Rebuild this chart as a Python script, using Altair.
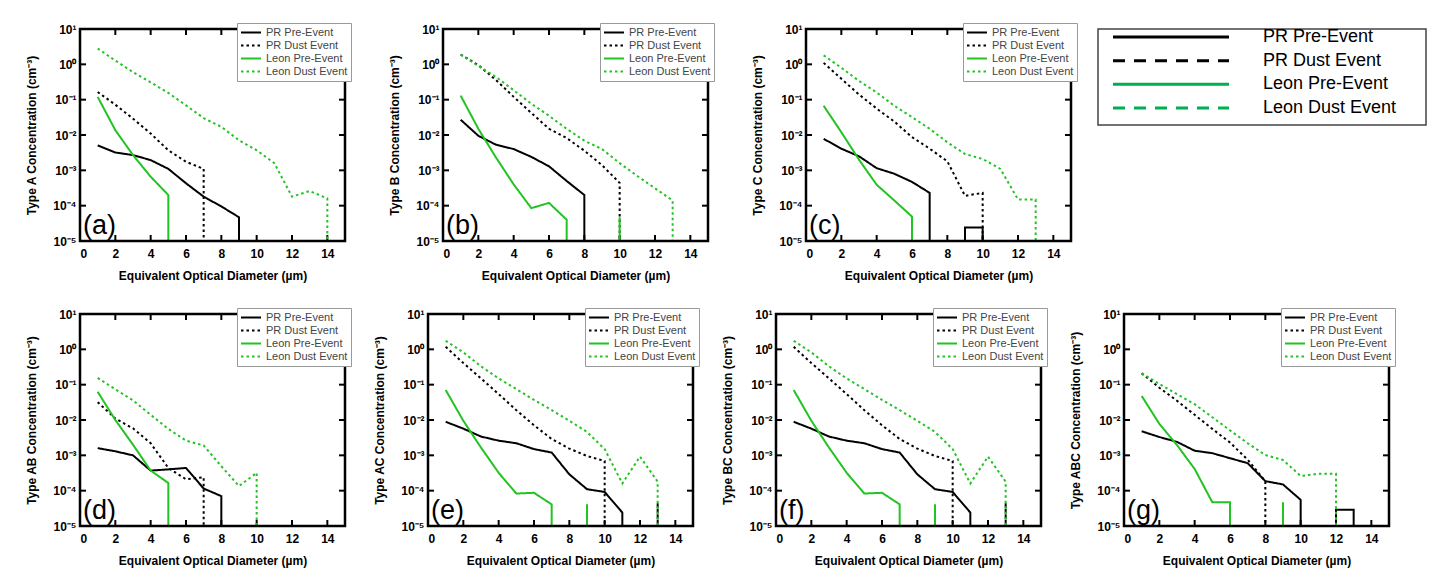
import altair as alt
import pandas as pd

SERIES = ["PR Pre-Event", "PR Dust Event", "Leon Pre-Event", "Leon Dust Event"]
LINE_COLORS = ["black", "black", "#22c322", "#22c322"]
LINE_DASHES = [[1, 0], [2.5, 3], [1, 0], [2.5, 3]]
KEY_COLORS = ["black", "black", "#00b050", "#00b050"]
KEY_DASHES = [[1, 0], [12, 9], [1, 0], [12, 9]]

# size bins (um), one value per bin; 0 = no particles counted
DIAMETERS = list(range(1, 16))
X_TICKS = [0, 2, 4, 6, 8, 10, 12, 14]
DECADES = [1e-5, 1e-4, 1e-3, 1e-2, 1e-1, 1, 10]
FLOOR = 1e-6  # zero counts are drawn below the axis bottom and clipped

# (a) Type A
A_PR_PRE = [5.1e-3, 3.2e-3, 2.7e-3, 1.95e-3, 1.1e-3, 4.3e-4, 1.8e-4, 9.5e-5, 4.7e-5, 0, 0, 0, 0, 0, 0]
A_PR_DUST = [0.165, 0.072, 0.029, 0.011, 3.7e-3, 1.75e-3, 1.1e-3, 0, 0, 0, 0, 0, 0, 0, 0]
A_LEON_PRE = [0.12, 0.0137, 2.7e-3, 6.6e-4, 2.0e-4, 0, 0, 0, 0, 0, 0, 0, 0, 0, 0]
A_LEON_DUST = [2.8, 1.28, 0.6, 0.31, 0.155, 0.069, 0.030, 0.017, 7.1e-3, 3.7e-3, 1.6e-3, 1.8e-4, 2.6e-4, 1.6e-4, 0]

# (b) Type B
B_PR_PRE = [0.027, 9.5e-3, 5.3e-3, 4.0e-3, 2.4e-3, 1.3e-3, 5.0e-4, 2.0e-4, 0, 0, 0, 0, 0, 0, 0]
B_PR_DUST = [1.9, 0.95, 0.36, 0.12, 0.042, 0.015, 8.2e-3, 3.6e-3, 1.4e-3, 4.4e-4, 0, 0, 0, 0, 0]
B_LEON_PRE = [0.13, 0.015, 2.3e-3, 4.0e-4, 8.5e-5, 1.2e-4, 4.0e-5, 0, 0, 4.7e-5, 0, 0, 0, 0, 0]
B_LEON_DUST = [1.9, 0.9, 0.44, 0.185, 0.077, 0.035, 0.015, 6.9e-3, 4.0e-3, 1.6e-3, 6.9e-4, 3.1e-4, 1.4e-4, 0, 1.4e-4]

# (c) Type C
C_PR_PRE = [7.8e-3, 4.1e-3, 2.5e-3, 1.15e-3, 8.0e-4, 4.7e-4, 2.3e-4, 0, 2.4e-5, 2.4e-5, 0, 0, 0, 0, 0]
C_PR_DUST = [1.1, 0.39, 0.14, 0.056, 0.024, 8.7e-3, 4.1e-3, 1.8e-3, 1.9e-4, 2.3e-4, 0, 0, 0, 0, 0]
C_LEON_PRE = [0.067, 0.012, 2.0e-3, 3.9e-4, 1.4e-4, 4.9e-5, 0, 0, 0, 0, 0, 0, 0, 0, 0]
C_LEON_DUST = [1.8, 0.8, 0.34, 0.16, 0.067, 0.032, 0.015, 6.2e-3, 2.9e-3, 2.1e-3, 1.1e-3, 1.5e-4, 1.5e-4, 0, 0]

# (d) Type AB
D_PR_PRE = [1.6e-3, 1.3e-3, 1.0e-3, 3.7e-4, 4.0e-4, 4.4e-4, 1.15e-4, 7.0e-5, 0, 0, 0, 0, 0, 0, 0]
D_PR_DUST = [0.032, 0.011, 5.8e-3, 2.2e-3, 4.4e-4, 2.1e-4, 2.4e-4, 0, 0, 0, 0, 0, 0, 0, 0]
D_LEON_PRE = [0.063, 0.010, 2.0e-3, 3.7e-4, 1.65e-4, 0, 0, 0, 0, 0, 0, 0, 0, 0, 0]
D_LEON_DUST = [0.155, 0.074, 0.036, 0.014, 5.6e-3, 2.6e-3, 1.9e-3, 4.9e-4, 1.35e-4, 3.2e-4, 0, 0, 0, 0, 0]

# (e) Type AC
E_PR_PRE = [8.9e-3, 5.7e-3, 3.4e-3, 2.6e-3, 2.2e-3, 1.5e-3, 1.2e-3, 2.9e-4, 1.1e-4, 9.2e-5, 2.4e-5, 0, 0, 0, 0]
E_PR_DUST = [1.18, 0.41, 0.15, 0.054, 0.019, 7.1e-3, 2.9e-3, 1.55e-3, 9.6e-4, 6.9e-4, 0, 0, 4.5e-5, 0, 0]
E_LEON_PRE = [0.071, 9.5e-3, 1.66e-3, 3.2e-4, 8.3e-5, 8.7e-5, 4.1e-5, 0, 4.1e-5, 0, 0, 0, 0, 0, 0]
E_LEON_DUST = [1.75, 0.82, 0.33, 0.15, 0.075, 0.037, 0.019, 9.5e-3, 4.6e-3, 1.5e-3, 1.6e-4, 9.2e-4, 1.8e-4, 0, 0]

# (f) Type BC
F_PR_PRE = [8.9e-3, 5.7e-3, 3.4e-3, 2.6e-3, 2.2e-3, 1.5e-3, 1.2e-3, 2.9e-4, 1.1e-4, 9.2e-5, 2.4e-5, 0, 0, 0, 0]
F_PR_DUST = [1.18, 0.41, 0.15, 0.054, 0.019, 7.1e-3, 2.9e-3, 1.55e-3, 9.6e-4, 6.9e-4, 0, 0, 4.5e-5, 0, 0]
F_LEON_PRE = [0.071, 9.5e-3, 1.66e-3, 3.2e-4, 8.3e-5, 8.7e-5, 4.1e-5, 0, 4.1e-5, 0, 0, 0, 0, 0, 0]
F_LEON_DUST = [1.75, 0.82, 0.33, 0.15, 0.075, 0.037, 0.019, 9.5e-3, 4.6e-3, 1.5e-3, 1.6e-4, 9.2e-4, 1.8e-4, 0, 0]

# (g) Type ABC
G_PR_PRE = [4.8e-3, 3.3e-3, 2.4e-3, 1.35e-3, 1.15e-3, 8.3e-4, 6.0e-4, 1.86e-4, 1.5e-4, 5.5e-5, 0, 2.9e-5, 2.9e-5, 0, 0]
G_PR_DUST = [0.21, 0.082, 0.035, 0.014, 5.6e-3, 2.3e-3, 7.5e-4, 1.86e-4, 0, 0, 0, 0, 0, 0, 0]
G_LEON_PRE = [0.048, 7.8e-3, 1.95e-3, 4.1e-4, 4.7e-5, 4.7e-5, 0, 0, 4.7e-5, 0, 0, 0, 0, 0, 0]
G_LEON_DUST = [0.21, 0.105, 0.054, 0.028, 0.012, 5.1e-3, 2.2e-3, 1.02e-3, 7.4e-4, 2.6e-4, 3.0e-4, 3.0e-4, 0, 0, 0]

W, H = 265, 212
FONT = "Liberation Sans, Arial, sans-serif"
X_TITLE = "Equivalent Optical Diameter (µm)"
EXP = "round(log(datum.value) / LN10)"
EXP_LABEL = ("'10' + (" + EXP + " < 0 ? '⁻' : '') + "
             "['⁰','¹','²','³','⁴','⁵','⁶'][abs(" + EXP + ")]")


def steps(ys):
    # vertical edges where a bin goes to / comes from zero
    pts = []
    prev = None
    for d, c in zip(DIAMETERS, ys):
        if c == 0 and prev is not None and prev > 0:
            pts.append((d - 1, FLOOR))
        if c > 0 and prev == 0:
            pts.append((d, FLOOR))
        if c > 0:
            pts.append((d, c))
        prev = c
    return pts


def panel(letter, kind, series_values):
    rows = []
    for name, ys in zip(SERIES, series_values):
        for i, (d, c) in enumerate(steps(ys)):
            rows.append({"series": name, "i": i, "d": d, "c": c})
    df = pd.DataFrame(rows)

    x_enc = alt.X("d:Q", scale=alt.Scale(domain=[0, 15], nice=False),
                  axis=alt.Axis(values=X_TICKS, title=X_TITLE))
    y_enc = alt.Y("c:Q", scale=alt.Scale(type="log", domain=[1e-5, 10], nice=False),
                  axis=alt.Axis(values=DECADES, labelExpr=EXP_LABEL,
                                title=f"Type {kind} Concentration (cm⁻³)"))
    leg = alt.Legend(title=None, orient="top-right", offset=-6, symbolType="stroke",
                     symbolSize=400, symbolStrokeWidth=2, labelFont=FONT, labelFontSize=11,
                     labelColor="#444", fillColor="white", strokeColor="#999",
                     padding=3, rowPadding=0, labelOffset=4, clipHeight=13)

    lines = alt.Chart(df).mark_line(clip=True, strokeWidth=2).encode(
        x=x_enc,
        y=y_enc,
        color=alt.Color("series:N", scale=alt.Scale(domain=SERIES, range=LINE_COLORS), legend=leg),
        strokeDash=alt.StrokeDash("series:N", scale=alt.Scale(domain=SERIES, range=LINE_DASHES), legend=leg),
        order=alt.Order("i:Q"),
    )

    ydf = pd.DataFrame({"c": DECADES})
    xdf = pd.DataFrame({"d": X_TICKS})
    tick = dict(color="black", strokeWidth=2)
    left = alt.Chart(ydf).mark_rule(**tick).encode(y=y_enc, x=alt.value(0), x2=alt.value(6))
    right = alt.Chart(ydf).mark_rule(**tick).encode(y=y_enc, x=alt.value(W - 6), x2=alt.value(W))
    bottom = alt.Chart(xdf).mark_rule(**tick).encode(x=x_enc, y=alt.value(H - 6), y2=alt.value(H))
    top = alt.Chart(xdf).mark_rule(**tick).encode(x=x_enc, y=alt.value(0), y2=alt.value(6))

    one = pd.DataFrame({"t": [f"({letter})"]})
    tag = alt.Chart(one).mark_text(
        align="left", baseline="bottom", fontSize=27, font=FONT
    ).encode(text="t:N", x=alt.value(3), y=alt.value(H - 1))
    frame = alt.Chart(one).mark_rect(fillOpacity=0, stroke="black", strokeWidth=2.5).encode(
        x=alt.value(0), x2=alt.value(W), y=alt.value(0), y2=alt.value(H))

    return alt.layer(left, right, bottom, top, lines, tag, frame).properties(width=W, height=H)


def indep(ch):
    return ch.resolve_scale(color="independent", strokeDash="independent").resolve_legend(
        color="independent", strokeDash="independent")


pa = panel("a", "A", [A_PR_PRE, A_PR_DUST, A_LEON_PRE, A_LEON_DUST])
pb = panel("b", "B", [B_PR_PRE, B_PR_DUST, B_LEON_PRE, B_LEON_DUST])
pc = panel("c", "C", [C_PR_PRE, C_PR_DUST, C_LEON_PRE, C_LEON_DUST])
pd_ = panel("d", "AB", [D_PR_PRE, D_PR_DUST, D_LEON_PRE, D_LEON_DUST])
pe = panel("e", "AC", [E_PR_PRE, E_PR_DUST, E_LEON_PRE, E_LEON_DUST])
pf = panel("f", "BC", [F_PR_PRE, F_PR_DUST, F_LEON_PRE, F_LEON_DUST])
pg = panel("g", "ABC", [G_PR_PRE, G_PR_DUST, G_LEON_PRE, G_LEON_DUST])

# big key box at top right
kdf = pd.DataFrame({"series": SERIES})
k_y = alt.Y("series:N", sort=SERIES, axis=None,
            scale=alt.Scale(type="point", range=[8, 79], padding=0))
key_lines = alt.Chart(kdf).mark_rule(strokeWidth=3).encode(
    y=k_y, x=alt.value(15), x2=alt.value(131),
    color=alt.Color("series:N", scale=alt.Scale(domain=SERIES, range=KEY_COLORS), legend=None),
    strokeDash=alt.StrokeDash("series:N", scale=alt.Scale(domain=SERIES, range=KEY_DASHES), legend=None),
)
key_text = alt.Chart(kdf).mark_text(align="left", baseline="middle", fontSize=18, font=FONT).encode(
    y=k_y, x=alt.value(165), text="series:N")
key = alt.layer(key_lines, key_text).properties(
    width=328, height=96, view=alt.ViewBackground(stroke="#444", strokeWidth=1.5))

row1 = indep(alt.hconcat(indep(alt.hconcat(pa, pb, pc, spacing=36)), key, spacing=19))
row2 = indep(alt.hconcat(pd_, pe, pf, pg, spacing=21))

chart = indep(alt.vconcat(row1, row2, spacing=26)).properties(
    padding={"left": 17, "top": 14, "right": 2, "bottom": 5}
).configure_view(stroke=None).configure_axis(
    grid=False, ticks=False, tickSize=0, domain=False, labelFont=FONT, titleFont=FONT,
    labelFontSize=12, labelFontWeight="bold", titleFontSize=12, titleFontWeight="bold",
    labelColor="black", titleColor="black", labelPadding=4
).configure_axisY(titlePadding=14).configure_axisX(labelPadding=7, titlePadding=11)

chart.save("out.html", embed_options={"renderer": "svg", "actions": False})
